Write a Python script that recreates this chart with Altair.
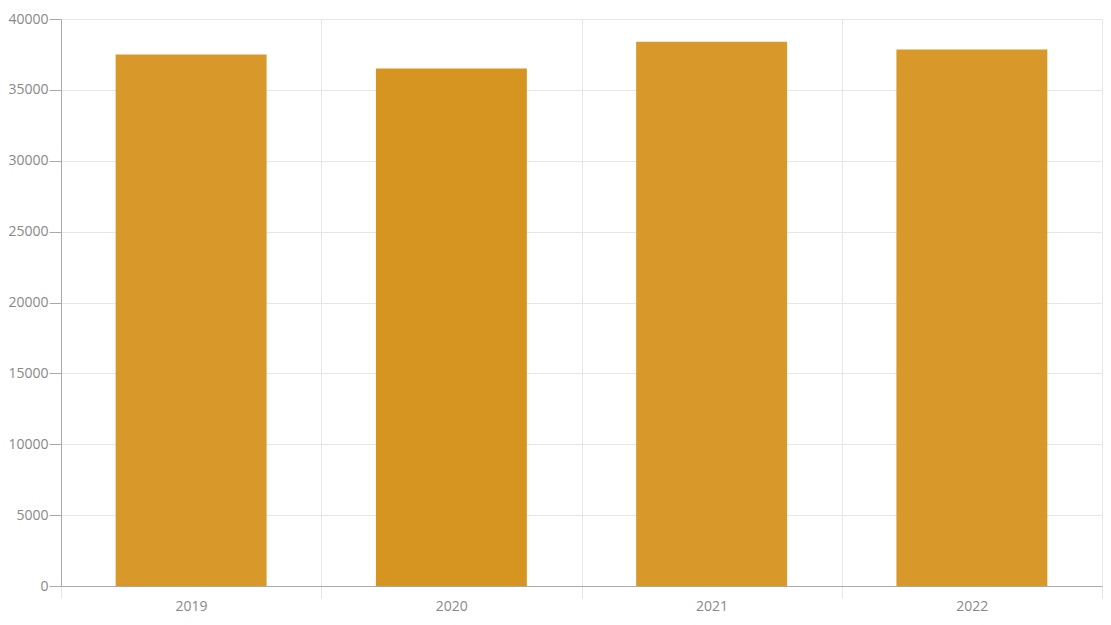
import altair as alt
import pandas as pd

years = ["2019", "2020", "2021", "2022"]
values = [37500, 36500, 38400, 37850]
colors = ["#D8992A", "#D69420", "#D8992A", "#D8992A"]
y_ticks = [0, 5000, 10000, 15000, 20000, 25000, 30000, 35000, 40000]

df = pd.DataFrame({"year": years, "value": values, "color": colors})

chart = (
    alt.Chart(df)
    .mark_bar(width=alt.RelativeBandSize(0.58))
    .encode(
        x=alt.X(
            "year:N",
            sort=years,
            scale=alt.Scale(paddingInner=0, paddingOuter=0),
            axis=alt.Axis(
                title=None,
                labelAngle=0,
                grid=True,
                bandPosition=0,
                gridColor="#e6e6e6",
                tickColor="#e6e6e6",
                tickSize=12,
                tickBand="extent",
                domainColor="#aaaaaa",
                labelColor="#888888",
                labelFont="Open Sans",
                labelFontSize=14,
                labelPadding=1,
            ),
        ),
        y=alt.Y(
            "value:Q",
            scale=alt.Scale(domain=[0, 40000], nice=False),
            axis=alt.Axis(
                title=None,
                values=y_ticks,
                format="d",
                gridColor="#e6e6e6",
                tickColor="#aaaaaa",
                tickSize=12,
                domainColor="#aaaaaa",
                labelColor="#888888",
                labelFont="Open Sans",
                labelFontSize=14,
                labelPadding=1,
            ),
        ),
        color=alt.Color("color:N", scale=None, legend=None),
    )
    .properties(
        width=1041,
        height=567,
        autosize=alt.AutoSizeParams(type="none"),
        padding={"left": 53, "top": 11, "right": 1, "bottom": 27},
    )
    .configure_view(stroke="#e6e6e6")
)

chart.save("out.html", embed_options={"renderer": "svg", "actions": False})
